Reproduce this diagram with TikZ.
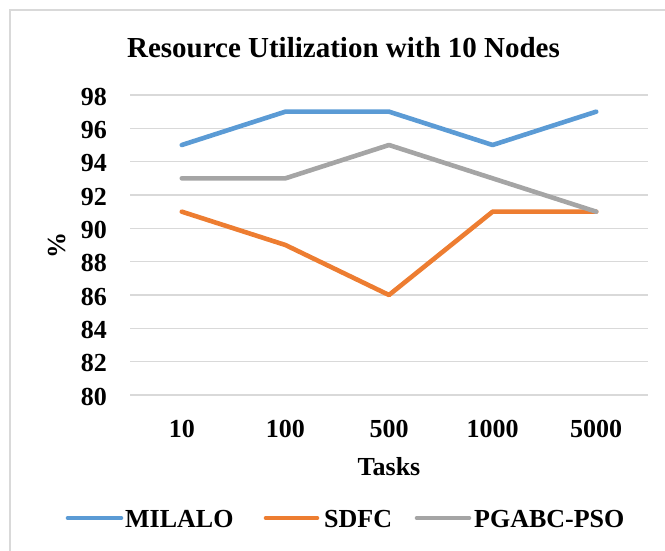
\documentclass[tikz,border=0pt]{standalone}
\usepackage{fontspec}
\setmainfont{Liberation Serif}
\definecolor{cblue}{HTML}{5B9BD5}
\definecolor{corange}{HTML}{ED7D31}
\definecolor{cgray}{HTML}{A5A5A5}
\definecolor{cgrid}{HTML}{D9D9D9}
\tikzset{
  lbl/.style={font=\fontsize{26}{26}\selectfont\bfseries, inner sep=0pt},
  ttl/.style={font=\fontsize{29}{29}\selectfont\bfseries, inner sep=0pt},
  grid line/.style={draw=cgrid, line width=1.4pt},
  frame line/.style={draw=cgrid, line width=1.5pt},
  series/.style={line width=4.6pt, line cap=round, line join=round},
}
\begin{document}
\begin{tikzpicture}[x=1pt,y=-1pt]
\useasboundingbox (0,0) rectangle (665,550);
\draw[frame line] (10,551) -- (10,10) -- (666,10);
% title
\node[ttl, anchor=base] (title) at (343.5,57) {Resource Utilization with 10 Nodes};
% gridlines and y labels
\foreach \v in {80,82,...,98}{
  \pgfmathsetmacro{\yy}{395-(\v-80)*300/18}
  \coordinate (gl\v) at (130,\yy);
  \coordinate (gr\v) at (648,\yy);
  \draw[grid line] (gl\v) -- (gr\v);
  \node[lbl, anchor=base east] (yl\v) at (107,\yy+10) {\v};
}
% axis titles
\node[lbl, rotate=90, anchor=center] (ytitle) at (57,245) {\%};
% x labels and data coordinates
\foreach \i/\t/\a/\b/\c in {0/10/95/91/93,1/100/97/89/93,2/500/97/86/95,3/1000/95/91/93,4/5000/97/91/91}{
  \pgfmathsetmacro{\xx}{181.8+103.6*\i}
  \node[lbl, anchor=base] (xl\i) at (\xx,437) {\t};
  \coordinate (m\i) at (\xx,{395-(\a-80)*300/18});
  \coordinate (s\i) at (\xx,{395-(\b-80)*300/18});
  \coordinate (p\i) at (\xx,{395-(\c-80)*300/18});
}
\node[lbl, anchor=base] (xtitle) at (389,475) {Tasks};
% series
\draw[series, cblue] (m0) -- (m1) -- (m2) -- (m3) -- (m4);
\draw[series, corange] (s0) -- (s1) -- (s2) -- (s3) -- (s4);
\draw[series, cgray] (p0) -- (p1) -- (p2) -- (p3) -- (p4);
% legend
\coordinate (lm1) at (68,518); \coordinate (lm2) at (121,518);
\draw[series, cblue] (lm1) -- (lm2);
\node[lbl, anchor=base west] (legm) at (125,527) {MILALO};
\coordinate (ls1) at (266,518); \coordinate (ls2) at (317,518);
\draw[series, corange] (ls1) -- (ls2);
\node[lbl, anchor=base west] (legs) at (324,527) {SDFC};
\coordinate (lp1) at (417,518); \coordinate (lp2) at (469,518);
\draw[series, cgray] (lp1) -- (lp2);
\node[lbl, anchor=base west] (legp) at (474,527) {PGABC-PSO};
\end{tikzpicture}
\end{document}
